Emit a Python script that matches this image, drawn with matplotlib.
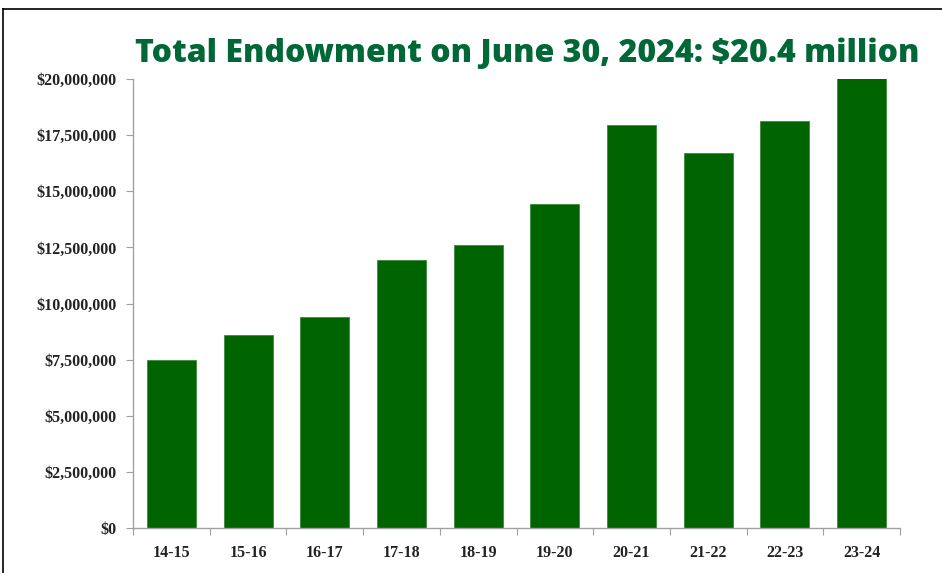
import matplotlib
matplotlib.use("Agg")
import matplotlib.pyplot as plt
from matplotlib.ticker import FuncFormatter
from matplotlib.lines import Line2D

years = ["14-15", "15-16", "16-17", "17-18", "18-19", "19-20", "20-21", "21-22", "22-23", "23-24"]
endowment = [7.48e6, 8.60e6, 9.40e6, 11.94e6, 12.61e6, 14.43e6, 17.95e6, 16.70e6, 18.13e6, 20.4e6]
yticks = [0, 2.5e6, 5e6, 7.5e6, 10e6, 12.5e6, 15e6, 17.5e6, 20e6]

fig = plt.figure(figsize=(9.42, 5.73), dpi=100)
ax = fig.add_axes([133/942, 1-528/573, (900-133)/942, (528-79)/573])

x = list(range(len(years)))
ax.bar(x, endowment, width=0.64, color="#006400", edgecolor="#3a8a3a", linewidth=0.6)
ax.set_xlim(-0.5, len(years)-0.5)
ax.set_ylim(0, 20e6)
ax.set_yticks(yticks)
ax.yaxis.set_major_formatter(FuncFormatter(lambda v, p: "${:,.0f}".format(v)))
ax.set_xticks([i - 0.5 for i in range(len(years)+1)], minor=False)
ax.set_xticklabels([])
ax.set_xticks(x, minor=True)
ax.set_xticklabels(years, minor=True)
ax.tick_params(axis="x", which="minor", length=0, pad=12)
ax.tick_params(axis="x", which="major", length=5, color="#a0a0a0")
ax.tick_params(axis="y", length=5, color="#a0a0a0", pad=7)

for spine in ["top", "right"]:
    ax.spines[spine].set_visible(False)
for spine in ["left", "bottom"]:
    ax.spines[spine].set_color("#a0a0a0")
    ax.spines[spine].set_linewidth(1.0)

for lbl in ax.get_yticklabels() + ax.get_xticklabels(minor=True):
    lbl.set_fontfamily("Liberation Serif")
    lbl.set_fontweight("bold")
    lbl.set_fontsize(11.5)
    lbl.set_color("#222222")

fig.text(527/942, 1-54/573, "Total Endowment on June 30, 2024: $20.4 million",
         ha="center", va="center", fontsize=23, fontweight=800,
         family="Open Sans", color="#006837")

# frame lines
fig.add_artist(Line2D([3/942, 1], [1-9/573, 1-9/573], color="black", lw=1.2, transform=fig.transFigure))
fig.add_artist(Line2D([3/942, 3/942], [0, 1-9/573], color="black", lw=1.2, transform=fig.transFigure))

fig.savefig("out.png", dpi=100)
